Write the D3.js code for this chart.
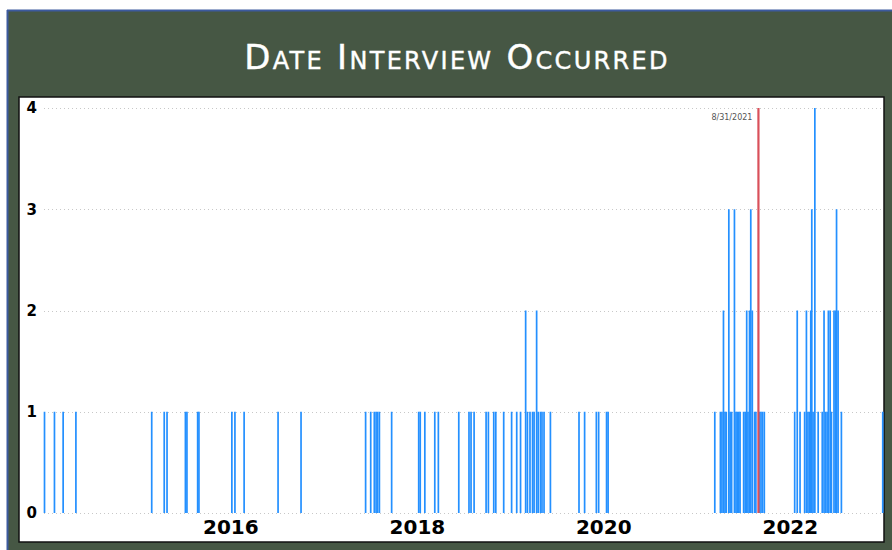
<!DOCTYPE html>
<html>
<head>
<meta charset="utf-8">
<script src="https://cdn.jsdelivr.net/npm/d3@7"></script>
<style>
  html, body { margin: 0; padding: 0; background: #ffffff; }
  svg { display: block; }
</style>
</head>
<body>
<svg id="chart" width="892" height="550"></svg>
<script>
// ---- data ----
const titleText = "Date Interview Occurred";
const interviewDates = [
  "2014-01-03","2014-02-11","2014-03-17","2014-05-06",
  "2015-02-27","2015-04-17","2015-04-28","2015-07-09","2015-07-15","2015-08-26","2015-08-31",
  "2016-01-07","2016-01-19","2016-02-24","2016-07-06","2016-10-04",
  "2017-06-14","2017-07-04","2017-07-18","2017-07-25","2017-07-31","2017-08-07","2017-09-24",
  "2018-01-08","2018-01-14","2018-02-01","2018-03-12","2018-03-26","2018-06-14","2018-07-24",
  "2018-08-01","2018-08-13","2018-09-29","2018-10-08","2018-10-29","2018-11-06","2018-12-07",
  "2019-01-07","2019-01-27","2019-02-11","2019-03-03","2019-03-10","2019-03-20","2019-03-30",
  "2019-04-05","2019-04-15","2019-04-21","2019-04-30","2019-05-06","2019-05-14","2019-06-08",
  "2019-09-28","2019-10-20","2019-12-05","2019-12-14","2020-01-14","2020-01-20",
  "2021-03-13","2021-04-04","2021-04-10","2021-04-16","2021-04-22","2021-04-27","2021-05-07",
  "2021-05-12","2021-05-18","2021-05-29","2021-06-04","2021-06-09","2021-06-15","2021-06-20",
  "2021-07-04","2021-07-10","2021-07-16","2021-07-21","2021-07-27","2021-08-01","2021-08-07",
  "2021-08-16","2021-08-21","2021-09-04","2021-09-10","2021-09-16","2021-09-23",
  "2022-01-20","2022-01-30","2022-02-10","2022-02-28","2022-03-07","2022-03-13","2022-03-19",
  "2022-03-24","2022-03-28","2022-04-02","2022-04-09","2022-04-22","2022-05-08","2022-05-15",
  "2022-05-21","2022-05-27","2022-06-01","2022-06-08","2022-06-13","2022-06-23","2022-06-29",
  "2022-07-03","2022-07-09","2022-07-22","2022-12-31"
];
const interviewCounts = [
  1,1,1,1,
  1,1,1,1,1,1,1,
  1,1,1,1,1,
  1,1,1,1,1,1,1,
  1,1,1,1,1,1,1,
  1,1,1,1,1,1,1,
  1,1,1,2,1,1,1,
  1,2,1,1,1,1,1,
  1,1,1,1,1,1,
  1,1,1,2,1,1,3,
  1,1,3,1,1,1,1,
  1,1,2,1,2,3,2,
  1,1,1,1,1,1,
  1,2,1,1,2,1,1,
  2,3,1,4,1,1,2,
  1,1,2,2,1,2,2,
  3,2,1,1
];
const yTicks = [0, 1, 2, 3, 4];
const xTickYears = [2016, 2018, 2020, 2022];
const xDomain = ["2014-01-01", "2023-01-01"];
const markerDate = "2021-08-31";
const markerLabel = "8/31/2021";

// ---- drawing ----
const parse = d3.timeParse("%Y-%m-%d");
const data = interviewDates.map((d, i) => ({ date: parse(d), count: interviewCounts[i] }));

const svg = d3.select("#chart");
const W = 892, H = 550;

// panel background
svg.append("rect").attr("x", 7).attr("y", 10).attr("width", W - 7).attr("height", H - 10)
  .attr("fill", "#465744");
svg.append("line").attr("x1", 7).attr("x2", W).attr("y1", 10.5).attr("y2", 10.5)
  .attr("stroke", "#3c5a9e").attr("stroke-width", 2);
svg.append("line").attr("x1", 7.5).attr("x2", 7.5).attr("y1", 10).attr("y2", H)
  .attr("stroke", "#3c5a9e").attr("stroke-width", 2);

// title
svg.append("text")
  .attr("x", 457).attr("y", 69)
  .attr("text-anchor", "middle")
  .attr("fill", "#ffffff")
  .attr("stroke", "#ffffff")
  .attr("stroke-width", 0.4)
  .style("font-family", "'DejaVu Sans', sans-serif")
  .style("font-size", "34px")
  .style("letter-spacing", "2.3px")
  .style("font-variant", "small-caps")
  .text(titleText);

// plot frame
const frame = { x: 19, y: 97, w: 865, h: 445 };
svg.append("rect").attr("x", frame.x).attr("y", frame.y).attr("width", frame.w).attr("height", frame.h)
  .attr("fill", "#ffffff").attr("stroke", "#111").attr("stroke-width", 1.5);

const x = d3.scaleTime().domain(xDomain.map(parse)).range([44, 883]);
const y = d3.scaleLinear().domain([0, 4]).range([513, 108]);

// gridlines
const grid = svg.append("g");
grid.selectAll("line").data(yTicks).join("line")
  .attr("x1", 44).attr("x2", 883)
  .attr("y1", d => Math.round(y(d)) + 0.5).attr("y2", d => Math.round(y(d)) + 0.5)
  .attr("stroke", "#c8c8c8").attr("stroke-width", 1)
  .attr("stroke-dasharray", "1,3");

// y axis labels
const yAxis = d3.axisLeft(y).tickValues(yTicks).tickSize(0).tickPadding(0).tickFormat(d3.format("d"));
const yg = svg.append("g").attr("transform", "translate(37,0)").call(yAxis);
yg.select(".domain").remove();
yg.selectAll("text")
  .attr("fill", "#000")
  .style("font-family", "'DejaVu Sans', sans-serif")
  .style("font-weight", "bold")
  .style("font-size", "15px");

// x axis labels
const xAxis = d3.axisBottom(x)
  .tickValues(xTickYears.map(yr => new Date(yr, 0, 1)))
  .tickSize(0).tickPadding(0).tickFormat(d3.timeFormat("%Y"));
const xg = svg.append("g").attr("transform", "translate(0,520)").call(xAxis);
xg.select(".domain").remove();
xg.selectAll("text")
  .attr("fill", "#000")
  .attr("dy", "0.71em")
  .style("font-family", "'DejaVu Sans', sans-serif")
  .style("font-weight", "bold")
  .style("font-size", "20px");

// bars
const barW = 1.7;
svg.append("g").selectAll("rect").data(data).join("rect")
  .attr("x", d => x(d.date) - barW / 2)
  .attr("y", d => y(d.count))
  .attr("width", barW)
  .attr("height", d => y(0) - y(d.count))
  .attr("fill", "#2490ff");

// marker line
const mx = x(parse(markerDate));
svg.append("line")
  .attr("x1", mx).attr("x2", mx)
  .attr("y1", y(4)).attr("y2", y(0))
  .attr("stroke", "#d9505a").attr("stroke-width", 2.2);
svg.append("text")
  .attr("x", mx - 6).attr("y", 120)
  .attr("text-anchor", "end")
  .attr("fill", "#555")
  .style("font-family", "'DejaVu Sans', sans-serif")
  .style("font-size", "8px")
  .text(markerLabel);
</script>
</body>
</html>
